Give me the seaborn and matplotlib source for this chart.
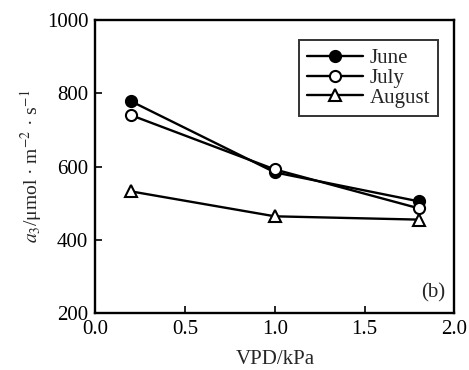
import matplotlib
matplotlib.use("Agg")
import matplotlib.pyplot as plt
import pandas as pd
import seaborn as sns

vpd = [0.2, 1.0, 1.8]
june = [778, 584, 505]
july = [740, 592, 486]
august = [532, 464, 455]
months = ["June", "July", "August"]

df = pd.DataFrame({
    "VPD": vpd * 3,
    "a3": june + july + august,
    "Month": [m for m in months for _ in vpd],
})

sns.set_theme(style="ticks")
plt.rcParams["font.family"] = ["Liberation Serif", "DejaVu Serif"]
plt.rcParams["mathtext.fontset"] = "stix"

fig = plt.figure(figsize=(4.69, 3.70), dpi=100)
ax = fig.add_axes([0.203, 0.154, 0.766, 0.792])

sns.lineplot(data=df, x="VPD", y="a3", hue="Month", style="Month",
             palette=["black"] * 3, markers={"June": "o", "July": "o", "August": "^"},
             dashes=False, linewidth=1.7, markersize=8, ax=ax)

# fill styles per series
fills = ["black", "white", "white"]
for line, fc in zip(ax.get_lines()[:3], fills):
    line.set_markerfacecolor(fc)
    line.set_markeredgecolor("black")
    line.set_markeredgewidth(1.5)

ax.set_xlim(0, 2.0)
ax.set_ylim(200, 1000)
ax.set_xticks([0.0, 0.5, 1.0, 1.5, 2.0])
ax.set_xticklabels(["0.0", "0.5", "1.0", "1.5", "2.0"])
ax.set_yticks([200, 400, 600, 800, 1000])
ax.tick_params(direction="in", length=5, width=1.2, labelsize=15, colors="black",
               top=False, right=False, pad=5)
for s in ax.spines.values():
    s.set_linewidth(1.7)
    s.set_color("black")

ax.set_xlabel("VPD/kPa", fontsize=15, labelpad=8)
ax.set_ylabel(r"$a_3$/μmol · m$^{-2}$ · s$^{-1}$", fontsize=14, labelpad=2)

handles, labels = ax.get_legend_handles_labels()
for h, fc in zip(handles, fills):
    h.set_markerfacecolor(fc)
    h.set_markeredgecolor("black")
    h.set_markeredgewidth(1.5)
leg = ax.legend(handles, labels, loc="upper right", bbox_to_anchor=(0.955, 0.93),
                frameon=True, fancybox=False, edgecolor="black", fontsize=15,
                handlelength=2.7, labelspacing=0.0, borderpad=0.4, handletextpad=0.3,
                borderaxespad=0.0)
leg.get_frame().set_linewidth(1.4)

ax.text(0.975, 0.035, "(b)", transform=ax.transAxes, ha="right", va="bottom", fontsize=15)

fig.savefig("out.png", dpi=100)
